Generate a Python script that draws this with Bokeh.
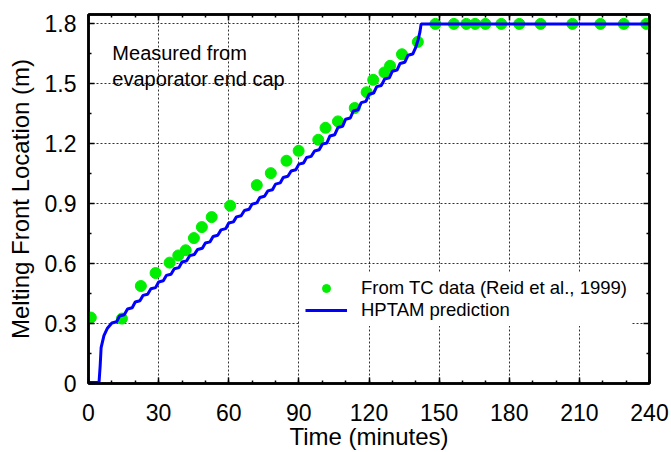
from bokeh.plotting import figure
from bokeh.models import (Range1d, LinearAxis, FixedTicker, Legend, LegendItem, Label,
                          CustomLabelingPolicy)
from bokeh.embed import file_html
from bokeh.resources import INLINE

# ---- data ----
tc_time = [1, 14.3, 22.4, 28.7, 34.7, 38.4, 41.6, 45.1, 48.5, 52.7, 60.6, 72.0, 78.0,
           84.7, 89.9, 98.3, 101.4, 106.7, 113.9, 119.0, 121.8, 126.6, 129.0, 134.1,
           140.9, 148.4, 156.3, 161.6, 165.4, 169.8, 176.6, 184.3, 193.4, 207.0,
           219.0, 229.0, 238.6]
tc_loc = [0.33, 0.325, 0.488, 0.553, 0.605, 0.641, 0.667, 0.728, 0.783, 0.833, 0.89,
          0.993, 1.053, 1.115, 1.165, 1.22, 1.28, 1.312, 1.379, 1.458, 1.52, 1.557,
          1.59, 1.648, 1.71, 1.8, 1.8, 1.8, 1.8, 1.8, 1.8, 1.8, 1.8, 1.8, 1.8, 1.8, 1.8]

hptam_time = [0, 4.5, 5.0, 5.4, 6.6, 8.0,
              10.0, 12.0, 13.3, 15.3, 16.7, 18.7, 20.0, 22.0, 23.3, 25.3, 26.7, 28.7,
              30.0, 32.0, 33.3, 35.3, 36.7, 38.7, 40.0, 42.0, 43.3, 45.3, 46.7, 48.7,
              50.0, 52.0, 53.3, 55.3, 56.7, 58.7, 60.0, 62.0, 63.3, 65.3, 66.7, 68.7,
              70.0, 72.0, 73.3, 75.3, 76.7, 78.7, 80.0, 82.0, 83.3, 85.3, 86.7, 88.7,
              90.0, 92.0, 93.3, 95.3, 96.7, 98.7, 100.0, 102.0, 103.3, 105.3, 106.7, 108.7,
              110.0, 112.0, 113.3, 115.3, 116.7, 118.7, 120.0, 122.0, 123.3, 125.3, 126.7, 128.7,
              130.0, 132.0, 133.3, 135.3, 136.7, 138.7,
              140.0, 141.0, 141.8, 142.3, 240.0]
hptam_loc = [0.005, 0.005, 0.09, 0.18, 0.24, 0.275,
             0.303, 0.309, 0.338, 0.344, 0.373, 0.379, 0.408, 0.414, 0.441, 0.447, 0.474, 0.480,
             0.508, 0.514, 0.541, 0.547, 0.574, 0.580, 0.608, 0.614, 0.640, 0.646, 0.671, 0.677,
             0.703, 0.709, 0.736, 0.742, 0.769, 0.775, 0.803, 0.809, 0.834, 0.840, 0.866, 0.872,
             0.898, 0.904, 0.931, 0.937, 0.964, 0.970, 0.998, 1.004, 1.031, 1.037, 1.064, 1.070,
             1.098, 1.104, 1.131, 1.137, 1.164, 1.170, 1.198, 1.204, 1.239, 1.245, 1.281, 1.287,
             1.323, 1.329, 1.364, 1.370, 1.406, 1.412, 1.448, 1.454, 1.486, 1.492, 1.524, 1.530,
             1.563, 1.569, 1.602, 1.608, 1.643, 1.649,
             1.683, 1.72, 1.76, 1.80, 1.80]

x_ticks = [0, 30, 60, 90, 120, 150, 180, 210, 240]
x_tick_labels = ["0", "30", "60", "90", "120", "150", "180", "210", "240"]
x_minor = [0, 10, 20, 30, 40, 50, 60, 70, 80, 90, 100, 110, 120, 130, 140, 150, 160,
           170, 180, 190, 200, 210, 220, 230, 240]
y_ticks = [0, 0.3, 0.6, 0.9, 1.2, 1.5, 1.8]
y_tick_labels = ["0", "0.3", "0.6", "0.9", "1.2", "1.5", "1.8"]
y_minor = [0.15, 0.45, 0.75, 1.05, 1.35, 1.65]

x_title = "Time (minutes)"
y_title = "Melting Front Location (m)"

FONT = "Liberation Sans"

p = figure(width=671, height=452, output_backend="svg", toolbar_location=None,
           x_range=Range1d(0, 240), y_range=Range1d(0, 1.847),
           min_border_left=88, min_border_right=22, min_border_top=14, min_border_bottom=69,
           background_fill_color="white", border_fill_color="white")
p.outline_line_color = "black"
p.outline_line_width = 2.5

xt = FixedTicker(ticks=x_ticks, minor_ticks=x_minor)
yt = FixedTicker(ticks=y_ticks, minor_ticks=y_minor)


def style_axis(ax):
    ax.axis_line_color = "black"
    ax.axis_line_width = 2.5
    ax.major_tick_in = 6
    ax.major_tick_out = 0
    ax.minor_tick_in = 3
    ax.minor_tick_out = 0
    ax.major_tick_line_color = "black"
    ax.minor_tick_line_color = "black"
    ax.major_tick_line_width = 1.5
    ax.minor_tick_line_width = 1.5
    ax.major_label_text_font = FONT
    ax.major_label_text_color = "black"
    ax.major_label_text_font_size = "23px"
    ax.axis_label_text_font = FONT
    ax.axis_label_text_font_size = "24px"
    ax.axis_label_text_font_style = "normal"
    ax.axis_label_text_color = "black"


xa = p.xaxis[0]
xa.ticker = xt
xa.major_label_overrides = dict(zip(x_ticks, x_tick_labels))
xa.axis_label = x_title
style_axis(xa)
xa.major_label_standoff = 20
xa.axis_label_standoff = -1

ya = p.yaxis[0]
ya.ticker = yt
ya.major_label_overrides = dict(zip(y_ticks, y_tick_labels))
ya.axis_label = y_title
style_axis(ya)
ya.major_label_standoff = 12
ya.axis_label_standoff = 8

no_labels = CustomLabelingPolicy(code="for (const i of indices) { indices.unset(i) } return indices")

top = LinearAxis(ticker=xt)
style_axis(top)
top.major_label_text_font_size = "1px"
top.major_label_standoff = 0
top.major_label_policy = no_labels
p.add_layout(top, "above")
right = LinearAxis(ticker=yt)
style_axis(right)
right.major_label_text_font_size = "1px"
right.major_label_standoff = 0
right.major_label_policy = no_labels
p.add_layout(right, "right")

for g, t in ((p.xgrid[0], xt), (p.ygrid[0], yt)):
    g.ticker = t
    g.grid_line_color = "black"
    g.grid_line_dash = "2 2"
    g.grid_line_alpha = 0.8
    g.grid_line_width = 1

r_dots = p.scatter(tc_time, tc_loc, size=11, fill_color="#00ee00", line_color="#00ee00")
r_line = p.line(hptam_time, hptam_loc, line_color="#0000ff", line_width=3)

legend = Legend(items=[LegendItem(label="From TC data (Reid et al., 1999)", renderers=[r_dots]),
                       LegendItem(label="HPTAM prediction", renderers=[r_line])],
                location=(212, 57), padding=5, spacing=0, margin=0,
                label_height=20, glyph_height=20, glyph_width=42, label_standoff=14,
                label_text_font=FONT, label_text_font_size="18.5px", label_text_color="black",
                background_fill_color="white", background_fill_alpha=1.0,
                border_line_alpha=0)
p.add_layout(legend)

p.add_layout(Label(x=10.2, y=1.655, text="Measured from", text_font=FONT,
                   text_font_size="20px", text_color="black", text_baseline="alphabetic"))
p.add_layout(Label(x=10.2, y=1.525, text="evaporator end cap", text_font=FONT,
                   text_font_size="20px", text_color="black", text_baseline="alphabetic"))

open("out.html", "w").write(file_html(p, INLINE))
